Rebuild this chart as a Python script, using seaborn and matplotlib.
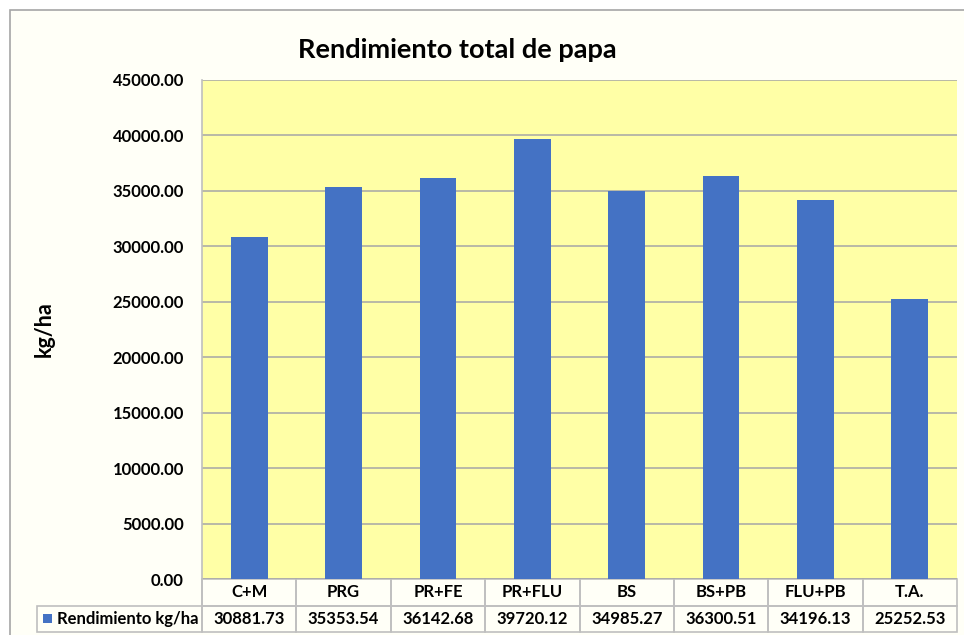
import matplotlib
matplotlib.use("Agg")
import matplotlib.pyplot as plt
import seaborn as sns
import pandas as pd
from matplotlib.patches import Rectangle

categories = ["C+M", "PRG", "PR+FE", "PR+FLU", "BS", "BS+PB", "FLU+PB", "T.A."]
values = [30881.73, 35353.54, 36142.68, 39720.12, 34985.27, 36300.51, 34196.13, 25252.53]
series_name = "Rendimiento kg/ha"
title = "Rendimiento total de papa"
y_label = "kg/ha"
y_ticks = [0, 5000, 10000, 15000, 20000, 25000, 30000, 35000, 40000, 45000]

sns.set_style("white")
FONT = ["Lato", "DejaVu Sans"]
plt.rcParams["font.family"] = FONT
plt.rcParams["hatch.linewidth"] = 0.9
plt.rcParams["text.color"] = "black"
plt.rcParams["axes.labelcolor"] = "black"
plt.rcParams["ytick.color"] = "black"

df = pd.DataFrame({"cat": categories, "val": values})

fig = plt.figure(figsize=(9.64, 6.35), dpi=100, facecolor="white")
W, H = 964, 635
# outer chart frame
frame = Rectangle((10 / W, -0.05), 1.1, 1 - 10 / H + 0.05,
                  transform=fig.transFigure, facecolor="#FFFFF7",
                  edgecolor="#A6A6A6", linewidth=1.2, zorder=-10)
fig.patches.append(frame)

left, right, top, bottom = 202, 957, 80, 579
ax = fig.add_axes([left / W, 1 - bottom / H, (right - left) / W, (bottom - top) / H])
ax.set_zorder(1)
ax.set_facecolor("white")
ax.add_patch(Rectangle((0, 0), 1, 1, transform=ax.transAxes, facecolor="#FFFFF4",
                       edgecolor="#FFFFA6", hatch="\\" * 20, linewidth=0, zorder=0))

sns.barplot(data=df, x="cat", y="val", color="#4472C4", width=0.39, saturation=1,
            edgecolor="none", linewidth=0, ax=ax, zorder=3)

ax.set_ylim(0, 45000)
ax.set_xlim(-0.5, len(categories) - 0.5)
ax.set_yticks(y_ticks)
ax.set_yticklabels([f"{t:.2f}" for t in y_ticks], fontsize=12, fontweight="bold", color="black")
ax.tick_params(axis="y", length=0, pad=13)
ax.set_xticks([])
ax.set_xlabel("")
ax.set_ylabel(y_label, fontsize=15.5, fontweight="bold", labelpad=0, color="black")
ax.yaxis.set_label_coords(-(202 - 55) / (right - left), 0.5)
ax.grid(axis="y", color="#A6A6A6", linewidth=1.1, zorder=1)
ax.set_axisbelow(True)
for s in ["top", "right", "bottom"]:
    ax.spines[s].set_visible(False)
ax.spines["left"].set_color("#BFBFBF")
ax.spines["left"].set_linewidth(1.2)

fig.text(457 / W, 1 - 50 / H, title, ha="center", va="center", fontsize=19.5,
         fontweight="bold", color="black")

# data table
ax_w = right - left
ax_h = bottom - top
lab_w = 202 - 37
col_w = ax_w / len(categories)
tot_w = lab_w + ax_w
cell_text = [["    " + series_name] + [f"{v:.2f}" for v in values]]
tbl = ax.table(cellText=cell_text, colLabels=[""] + categories,
               colWidths=[lab_w / tot_w] + [col_w / tot_w] * len(categories),
               cellLoc="center", bbox=[-lab_w / ax_w, -53 / ax_h, tot_w / ax_w, 53 / ax_h])
tbl.auto_set_font_size(False)
for (r, c), cell in tbl.get_celld().items():
    cell.set_edgecolor("#BFBFBF")
    cell.set_linewidth(1.2)
    cell.set_facecolor("none")
    cell.get_text().set_fontsize(12)
    cell.get_text().set_fontweight("bold")
    cell.get_text().set_fontfamily(FONT)
    cell.get_text().set_color("black")
    if r == 0 and c == 0:
        cell.visible_edges = "R"
    if r == 1 and c == 0:
        cell.PAD = 0.02
tbl[1, 0]._loc = "left"
# legend key square in row label
fig.patches.append(Rectangle((43 / W, 1 - 623 / H), 9 / W, 9 / H, transform=fig.transFigure,
                             facecolor="#4472C4", edgecolor="none", zorder=5))

fig.savefig("out.png", dpi=100, facecolor="white")
